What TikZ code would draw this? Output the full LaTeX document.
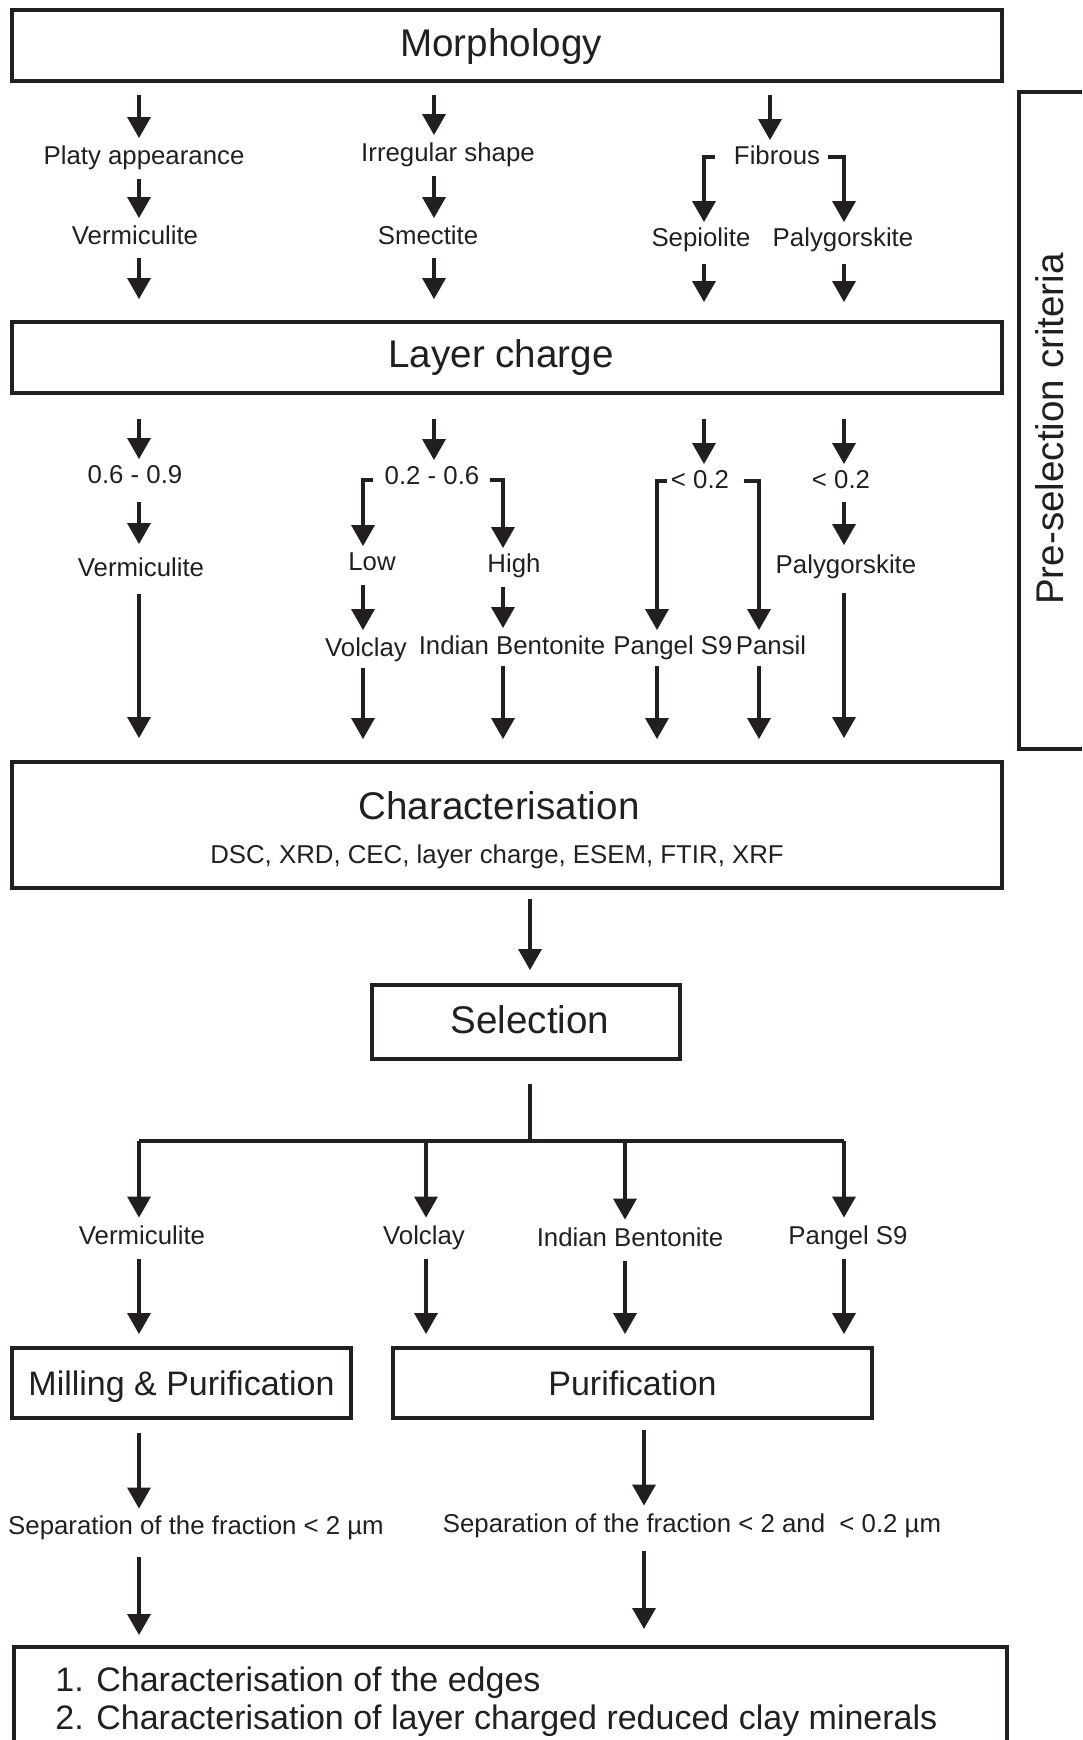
\documentclass[tikz,border=0pt]{standalone}
\usepackage{fontspec}
\setmainfont{Liberation Sans}
\usepackage{tikz}
\usetikzlibrary{arrows.meta,calc,positioning}
\definecolor{ink}{HTML}{231F20}
\newcommand{\stagefont}{\fontsize{19.3}{23}\selectfont}
\newcommand{\stepfont}{\fontsize{17}{20.5}\selectfont}
\newcommand{\clayfont}{\fontsize{12.9}{15.5}\selectfont}
\tikzset{
  stage box/.style   = {draw=ink, line width=1.9pt, inner sep=0pt, text=ink,
                        font=\stagefont},
  step box/.style    = {stage box, font=\stepfont, text height=13.4pt,
                        text depth=0.6pt},
  stage title/.style = {text=ink, inner sep=0pt, font=\stagefont},
  clay label/.style  = {text=ink, inner sep=0pt, text height=11.1pt,
                        text depth=1.4pt, font=\clayfont},
  flow/.style        = {-{Triangle[length=10.5pt,width=11.5pt]}, draw=ink,
                        line width=1.7pt, shorten <=5.5pt, shorten >=2pt},
  bar/.style         = {draw=ink, line width=1.7pt},
}

\begin{document}
\begin{tikzpicture}[x=0.5pt, y=-0.5pt]
  \useasboundingbox (0,0) rectangle (1082,1740);
  \clip (0,0) rectangle (1082,1740);
  % arrow columns
  \coordinate (colA) at (139,0);
  \coordinate (colB) at (434,0);
  \coordinate (colC) at (770,0);
  \coordinate (colD) at (704,0);
  \coordinate (colE) at (844,0);
  \coordinate (colF) at (363,0);
  \coordinate (colG) at (503,0);
  \coordinate (colH) at (657,0);
  \coordinate (colI) at (759,0);
  \coordinate (colJ) at (530,0);
  \coordinate (colK) at (426,0);
  \coordinate (colL) at (625,0);
  \coordinate (colN) at (644,0);

  % pre-selection
  \node[stage box, minimum width=495pt, minimum height=35.5pt] (morph) at (507,45.5) {};
  \node[stage title] (morphtitle) at (501,47) {Morphology};
  \node[clay label] (platy) at (144,155) {Platy appearance};
  \node[clay label] (irreg) at (448,152) {Irregular shape};
  \node[clay label] (fibrous) at (777,155) {Fibrous};
  \node[clay label] (verm1) at (135,235) {Vermiculite};
  \node[clay label] (smect) at (428,235) {Smectite};
  \node[clay label] (sepio) at (701,237) {Sepiolite};
  \node[clay label] (paly1) at (843,237) {Palygorskite};

  \node[stage box, minimum width=495pt, minimum height=35.5pt] (layer) at (507,357.5) {};
  \node[stage title] (layertitle) at (501,358) {Layer charge};
  \node[clay label] (r069) at (135,474) {0.6 - 0.9};
  \node[clay label] (r026) at (432,475) {0.2 - 0.6};
  \node[clay label] (lt02a) at (700,479) {< 0.2};
  \node[clay label] (lt02b) at (841,479) {< 0.2};
  \node[clay label] (verm2) at (141,567) {Vermiculite};
  \node[clay label] (low) at (372,561) {Low};
  \node[clay label] (high) at (514,563) {High};
  \node[clay label] (paly2) at (846,564) {Palygorskite};
  \node[clay label] (volc1) at (366,647) {Volclay};
  \node[clay label] (indb1) at (512,645) {Indian Bentonite};
  \node[clay label] (pang1) at (673,645) {Pangel S9};
  \node[clay label] (pansil) at (771,645) {Pansil};

  \draw[bar, line width=1.9pt] (1082,92) -| (1019,749) -- (1082,749);
  \node[stage title, rotate=90] (presel) at (1050,429) {Pre-selection criteria};

  % characterisation and selection
  \node[stage box, minimum width=495pt, minimum height=63pt] (charact) at (507,825) {};
  \node[stage title] (chartitle) at (499,806) {Characterisation};
  \node[clay label] (charlist) at (497,854) {DSC, XRD, CEC, layer charge, ESEM, FTIR, XRF};
  \node[stage box, minimum width=154pt, minimum height=37pt] (select) at (526,1022) {};
  \node[stage title] (selecttitle) at (530,1020) {Selection};
  \coordinate (split) at (530,1141);
  \node[clay label] (verm3) at (142,1235) {Vermiculite};
  \node[clay label] (volc2) at (424,1235) {Volclay};
  \node[clay label] (indb2) at (630,1237) {Indian Bentonite};
  \node[clay label] (pang2) at (848,1235) {Pangel S9};

  % treatment
  \node[step box, minimum width=169.5pt, minimum height=35pt] (milling) at (181.5,1383) {Milling \& Purification};
  \node[step box, minimum width=239.5pt, minimum height=35pt] (purif) at (632.5,1383) {Purification};
  \node[clay label] (sep1) at (196,1525) {Separation of the fraction < 2 µm};
  \node[clay label] (sep2) at (692,1523) {Separation of the fraction < 2 and\ \ < 0.2 µm};
  \node[step box, minimum width=496.5pt, minimum height=65pt, anchor=north west] (final) at (12,1645) {};
  \node[text=ink, font=\stepfont, inner sep=0pt, anchor=west] (goal1) at (55,1683) {1. Characterisation of the edges};
  \node[text=ink, font=\stepfont, inner sep=0pt, anchor=west] (goal2) at (55,1721) {2. Characterisation of layer charged reduced clay minerals};

  % morphology arrows
  \draw[flow, shorten <=6pt] (morph.south -| colA) -- (platy.north -| colA);
  \draw[flow, shorten <=6pt] (morph.south -| colB) -- (irreg.north -| colB);
  \draw[flow, shorten <=6pt, shorten >=1pt] (morph.south -| colC) -- (fibrous.north -| colC);
  \draw[flow] (platy.south -| colA) -- (verm1.north -| colA);
  \draw[flow] (irreg.south -| colB) -- (smect.north -| colB);
  \draw[flow, shorten <=9.5pt, shorten >=1pt] ([yshift=-1pt]fibrous.west) -| (sepio.north -| colD);
  \draw[flow, shorten <=4pt, shorten >=1pt] ([yshift=-1pt]fibrous.east) -| (paly1.north -| colE);
  \draw[flow, shorten <=5pt, shorten >=10.5pt] (verm1.south -| colA) -- (layer.north -| colA);
  \draw[flow, shorten <=5pt, shorten >=10.5pt] (smect.south -| colB) -- (layer.north -| colB);
  \draw[flow, shorten <=7pt, shorten >=9pt] (sepio.south -| colD) -- (layer.north -| colD);
  \draw[flow, shorten <=7pt, shorten >=9pt] (paly1.south -| colE) -- (layer.north -| colE);

  % layer charge arrows
  \draw[flow, shorten <=12pt, shorten >=1pt] (layer.south -| colA) -- (r069.north -| colA);
  \draw[flow, shorten <=12pt, shorten >=1pt] (layer.south -| colB) -- (r026.north -| colB);
  \draw[flow, shorten <=12pt, shorten >=1pt] (layer.south -| colD) -- (lt02a.north -| colD);
  \draw[flow, shorten <=12pt, shorten >=1pt] (layer.south -| colE) -- (lt02b.north -| colE);
  \draw[flow, shorten <=7.5pt, shorten >=5pt] (r069.south -| colA) -- (verm2.north -| colA);
  \draw[flow, shorten <=5pt, shorten >=3pt] (lt02b.south -| colE) -- (paly2.north -| colE);
  \draw[flow, shorten <=5.5pt, shorten >=1pt] ([yshift=-2.5pt]r026.west) -| (low.north -| colF);
  \draw[flow, shorten <=5pt, shorten >=1pt] ([yshift=-2.5pt]r026.east) -| (high.north -| colG);
  \draw[flow, shorten <=2pt, shorten >=1pt] ([yshift=-1pt]lt02a.west) -| (pang1.north -| colH);
  \draw[flow, shorten <=7.5pt, shorten >=1pt] ([yshift=-1pt]lt02a.east) -| (pansil.north -| colI);
  \draw[flow] (low.south -| colF) -- (volc1.north -| colF);
  \draw[flow] (high.south -| colG) -- (indb1.north -| colG);
  \draw[flow, shorten <=7pt, shorten >=11pt] (verm2.south -| colA) -- (charact.north -| colA);
  \draw[flow, shorten <=8pt, shorten >=11pt] (paly2.south -| colE) -- (charact.north -| colE);
  \draw[flow, shorten <=4pt, shorten >=10.5pt] (volc1.south -| colF) -- (charact.north -| colF);
  \draw[flow, shorten <=4pt, shorten >=10.5pt] (indb1.south -| colG) -- (charact.north -| colG);
  \draw[flow, shorten <=4pt, shorten >=10.5pt] (pang1.south -| colH) -- (charact.north -| colH);
  \draw[flow, shorten <=4pt, shorten >=10.5pt] (pansil.south -| colI) -- (charact.north -| colI);

  % selection arrows
  \draw[flow, shorten <=4.5pt, shorten >=6.5pt] (charact.south -| colJ) -- (select.north -| colJ);
  \draw[bar, shorten <=11.5pt] (select.south -| colJ) -- (split);
  \draw[bar] (split -| colA) -- (split -| colE);
  \draw[flow, shorten <=0pt, shorten >=2.25pt] (split -| colA) -- (verm3.north -| colA);
  \draw[flow, shorten <=0pt, shorten >=2.25pt] (split -| colK) -- (volc2.north -| colK);
  \draw[flow, shorten <=0pt, shorten >=2.25pt] (split -| colL) -- (indb2.north -| colL);
  \draw[flow, shorten <=0pt, shorten >=2.25pt] (split -| colE) -- (pang2.north -| colE);
  \draw[flow, shorten <=5.75pt, shorten >=6pt] (verm3.south -| colA) -- (milling.north -| colA);
  \draw[flow, shorten <=5.75pt, shorten >=6pt] (volc2.south -| colK) -- (purif.north -| colK);
  \draw[flow, shorten <=5.75pt, shorten >=6pt] (indb2.south -| colL) -- (purif.north -| colL);
  \draw[flow, shorten <=5.75pt, shorten >=6pt] (pang2.south -| colE) -- (purif.north -| colE);

  % treatment arrows
  \draw[flow, shorten <=6.5pt, shorten >=1.75pt] (milling.south -| colA) -- (sep1.north -| colA);
  \draw[flow, shorten <=5pt, shorten >=2.25pt] (purif.south -| colN) -- (sep2.north -| colN);
  \draw[flow, shorten <=9.75pt, shorten >=5pt] (sep1.south -| colA) -- (final.north -| colA);
  \draw[flow, shorten <=7.75pt, shorten >=8pt] (sep2.south -| colN) -- (final.north -| colN);
\end{tikzpicture}
\end{document}
